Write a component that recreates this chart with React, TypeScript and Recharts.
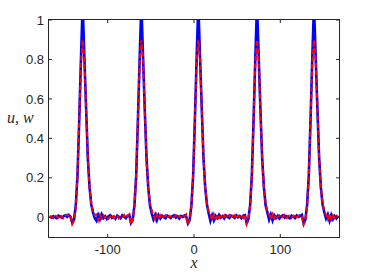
import { LineChart, Line, XAxis, YAxis } from "recharts";

// sample positions along x
const xs = [
  -167, -165, -163, -161, -159, -157, -155, -153, -151, -149, -147, -145,
  -143, -141, -139, -137, -135, -133, -131, -129, -127, -125, -123, -121,
  -119, -117, -115, -113, -111, -109, -107, -105, -103, -101, -99, -97,
  -95, -93, -91, -89, -87, -85, -83, -81, -79, -77, -75, -73,
  -71, -69, -67, -65, -63, -61, -59, -57, -55, -53, -51, -49,
  -47, -45, -43, -41, -39, -37, -35, -33, -31, -29, -27, -25,
  -23, -21, -19, -17, -15, -13, -11, -9, -7, -5, -3, -1,
  1, 3, 5, 7, 9, 11, 13, 15, 17, 19, 21, 23,
  25, 27, 29, 31, 33, 35, 37, 39, 41, 43, 45, 47,
  49, 51, 53, 55, 57, 59, 61, 63, 65, 67, 69, 71,
  73, 75, 77, 79, 81, 83, 85, 87, 89, 91, 93, 95,
  97, 99, 101, 103, 105, 107, 109, 111, 113, 115, 117, 119,
  121, 123, 125, 127, 129, 131, 133, 135, 137, 139, 141, 143,
  145, 147, 149, 151, 153, 155, 157, 159, 161, 163, 165, 167,
];

// u (blue, solid)
const uVals = [
  0.004, -0.002, 0.006, 0.0, -0.004, 0.008, 0.003, -0.003, 0.006, 0.01, 0.002, 0.012,
  0.002, -0.028, -0.012, 0.06, 0.21, 0.49, 0.8,
  1.08,
  0.81, 0.55, 0.3, 0.15, 0.065, 0.025, -0.005,
  -0.018, 0.012, -0.01, 0.015, -0.004, 0.006, -0.008, 0.005, 0.01, -0.003,
  0.004, -0.007, 0.008, 0.002, -0.005, 0.01, 0.003, -0.004, 0.008, 0.012,
  -0.028, -0.012, 0.06, 0.21, 0.49, 0.8,
  1.08,
  0.81, 0.54, 0.3, 0.15, 0.06, 0.02, -0.01,
  0.012, -0.015, 0.01, -0.006, 0.008, 0.0, -0.005, 0.009, 0.003, -0.004,
  0.006, 0.01, -0.002, 0.005, -0.006, 0.007, 0.002, 0.01, 0.004,
  -0.03, -0.012, 0.06, 0.21, 0.49, 0.8,
  1.08,
  0.81, 0.55, 0.3, 0.15, 0.065, 0.02, -0.018,
  0.01, -0.016, 0.008, -0.004, 0.012, -0.002, 0.006, -0.006, 0.009, 0.002,
  -0.004, 0.008, 0.004, -0.003, 0.01, 0.0, 0.006, -0.004, 0.008, 0.011,
  -0.028, -0.01, 0.06, 0.21, 0.49, 0.8,
  1.08,
  0.81, 0.54, 0.3, 0.15, 0.06, 0.025, -0.012,
  0.014, -0.016, 0.01, -0.004, 0.008, -0.006, 0.004, 0.01, -0.002, 0.006,
  0.0, -0.005, 0.008, 0.003, -0.004, 0.009, 0.002, 0.006, 0.012,
  -0.03, -0.013, 0.06, 0.21, 0.49, 0.8,
  1.08,
  0.81, 0.55, 0.3, 0.15, 0.065, 0.025, -0.006,
  0.014, -0.018, 0.012, -0.01, 0.006, -0.006, 0.008,
];

// w (red, dashed)
const wVals = [
  0.008, 0.002, -0.004, 0.01, 0.004, -0.002, 0.012, 0.0, -0.006, 0.008, 0.014, 0.004,
  0.008, -0.034, -0.016, 0.055, 0.21, 0.49, 0.78,
  0.9,
  0.8, 0.55, 0.3, 0.15, 0.07, 0.03, 0.012,
  0.015, -0.015, 0.012, -0.006, 0.01, -0.002, 0.008, -0.006, 0.004, 0.012,
  -0.004, 0.006, 0.01, -0.006, 0.005, 0.002, 0.012, -0.002, 0.006, 0.015,
  -0.034, -0.016, 0.055, 0.21, 0.49, 0.78,
  0.9,
  0.8, 0.54, 0.29, 0.15, 0.07, 0.035, 0.01,
  -0.012, 0.014, -0.008, 0.01, -0.004, 0.006, 0.01, -0.003, 0.008, 0.004,
  -0.006, 0.002, 0.011, -0.002, 0.006, 0.0, 0.012, 0.004, 0.014,
  -0.036, -0.015, 0.055, 0.21, 0.49, 0.78,
  0.9,
  0.8, 0.55, 0.3, 0.15, 0.07, 0.03, 0.015,
  -0.014, 0.016, -0.006, 0.012, -0.004, 0.008, 0.0, 0.01, -0.005, 0.006,
  0.012, -0.002, 0.007, 0.01, -0.004, 0.008, 0.002, 0.012, -0.003, 0.014,
  -0.035, -0.016, 0.055, 0.21, 0.49, 0.78,
  0.9,
  0.8, 0.54, 0.29, 0.15, 0.07, 0.03, 0.014,
  -0.01, 0.016, -0.006, 0.01, -0.002, 0.009, -0.005, 0.004, 0.012, -0.004,
  0.007, 0.01, -0.003, 0.006, 0.012, 0.0, 0.008, 0.014, 0.004,
  -0.038, -0.017, 0.055, 0.21, 0.49, 0.78,
  0.9,
  0.8, 0.55, 0.3, 0.15, 0.07, 0.03, 0.012,
  -0.01, 0.018, -0.012, 0.01, -0.004, 0.008, 0.0,
];

const xTicks = [-100, 0, 100];
const yTicks = [0, 0.2, 0.4, 0.6, 0.8, 1];
const xDomain = [-168, 168];
const yDomain = [-0.1, 1];

const data = xs.map((x, i) => ({ x, u: uVals[i], w: wVals[i] }));

const W = 374;
const H = 280;
const margin = { top: 20, right: 35, bottom: 0, left: 0 };
const yAxisW = 49;
const xAxisH = 43;
const plotTop = margin.top;
const plotBottom = H - margin.bottom - xAxisH;
const plotLeft = margin.left + yAxisW;
const plotRight = W - margin.right;
const tickLen = 3;

const ink = "#262626";
const tickFont = { fill: ink, fontSize: 13, fontFamily: "Liberation Sans, Arial, sans-serif" };
const mathFont = { fill: ink, fontSize: 16, fontStyle: "italic", fontFamily: "Liberation Serif, serif" };

// bottom tick: label + inward marks on bottom and top edges
const XTick = ({ x, y, payload }: any) => (
  <g>
    <line x1={x} x2={x} y1={plotBottom} y2={plotBottom - tickLen} stroke={ink} />
    <line x1={x} x2={x} y1={plotTop} y2={plotTop + tickLen} stroke={ink} />
    <text x={x} y={y} dy="0.71em" textAnchor="middle" fill={ink} style={tickFont}>
      {payload.value}
    </text>
  </g>
);

// left tick: label + inward marks on left and right edges
const YTick = ({ x, y, payload }: any) => (
  <g>
    <line x1={plotLeft} x2={plotLeft + tickLen} y1={y} y2={y} stroke={ink} />
    <line x1={plotRight} x2={plotRight - tickLen} y1={y} y2={y} stroke={ink} />
    <text x={x} y={y} dy="0.355em" textAnchor="end" fill={ink} style={tickFont}>
      {payload.value}
    </text>
  </g>
);

// axes box drawn over the chart
const Frame = () => (
  <div
    style={{
      position: "absolute",
      left: plotLeft - 1,
      top: plotTop - 1,
      width: plotRight - plotLeft + 2,
      height: plotBottom - plotTop + 2,
      border: `1px solid ${ink}`,
      boxSizing: "border-box",
      pointerEvents: "none",
    }}
  />
);

export default function App() {
  return (
    <div style={{ position: "fixed", left: 0, top: 0, width: W, height: H, background: "#fff" }}>
      <LineChart width={W} height={H} data={data} margin={margin}>
        <XAxis
          dataKey="x"
          type="number"
          domain={xDomain}
          allowDataOverflow
          ticks={xTicks}
          tickLine={false}
          tickMargin={2}
          height={xAxisH}
          tick={<XTick />}
          axisLine={false}
          label={{
            content: ({ viewBox }: any) => (
              <text x={viewBox.x + viewBox.width / 2} y={viewBox.y + 31} textAnchor="middle" style={mathFont}>
                x
              </text>
            ),
          }}
        />
        <YAxis
          type="number"
          domain={yDomain}
          allowDataOverflow
          ticks={yTicks}
          tickLine={false}
          tickMargin={-1}
          width={yAxisW}
          tick={<YTick />}
          axisLine={false}
          label={{
            content: ({ viewBox }: any) => (
              <text x={viewBox.x + 7} y={viewBox.y + viewBox.height / 2 - 6} textAnchor="start" style={mathFont}>
                u, w
              </text>
            ),
          }}
        />
        <Line dataKey="u" type="linear" stroke="#0000ff" strokeWidth={2.6} dot={false} isAnimationActive={false} />
        <Line
          dataKey="w"
          type="linear"
          stroke="#ff0000"
          strokeWidth={2}
          strokeDasharray="5 2.5"
          dot={false}
          isAnimationActive={false}
        />
      </LineChart>
      <Frame />
    </div>
  );
}
